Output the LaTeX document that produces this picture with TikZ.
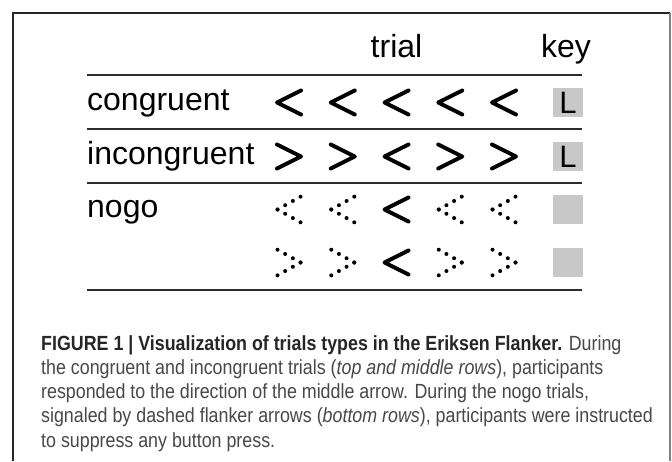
\documentclass[tikz,border=0pt]{standalone}
\usepackage{fontspec}
\setmainfont{Liberation Sans}
\newfontfamily\capfont[FakeStretch=0.87]{Liberation Sans}
\usepackage{xcolor}
\definecolor{keygray}{RGB}{200,200,200}
\definecolor{captext}{RGB}{72,72,72}
\definecolor{rulegray}{RGB}{45,45,45}
\tikzset{
  lab/.style={anchor=base west,inner sep=0pt,font=\fontsize{32}{36}\selectfont},
  head/.style={anchor=base,inner sep=0pt,font=\fontsize{32}{36}\selectfont},
  chev/.style={line width=4pt,line cap=round,line join=round},
  rulel/.style={rulegray,line width=1.8pt},
  keybox/.style={fill=keygray,minimum width=30pt,minimum height=29pt,inner sep=0pt,font=\fontsize{31}{34}\selectfont},
  capline/.style={anchor=base west,inner sep=0pt,font=\capfont\fontsize{20.5}{24}\selectfont,text=captext},
}
\newcommand{\lchev}[2]{\draw[chev] (#1+12,#2-12) -- (#1-12,#2) -- (#1+12,#2+12);}
\newcommand{\rchev}[2]{\draw[chev] (#1-12,#2-12) -- (#1+12,#2) -- (#1-12,#2+12);}
\newcommand{\ldotchev}[2]{\foreach \k in {0,1,2,3}{\fill (#1-11.5+7.667*\k,#2-4.27*\k) circle (2pt);
  \fill (#1-11.5+7.667*\k,#2+4.27*\k) circle (2pt);}}
\newcommand{\rdotchev}[2]{\foreach \k in {0,1,2,3}{\fill (#1+11.5-7.667*\k,#2-4.27*\k) circle (2pt);
  \fill (#1+11.5-7.667*\k,#2+4.27*\k) circle (2pt);}}
\begin{document}
\begin{tikzpicture}[x=1pt,y=-1pt]
\fill[white] (0,0) rectangle (672,461);
\useasboundingbox (0,0) rectangle (672,461);
% frame
\draw[black!85,line width=1.5pt] (13,461) -- (13,13) -- (670,13);
\draw[gray,line width=1.5pt] (670,13) -- (670,461);
% header and rules
\node[head] (trial) at (396.5,57) {trial};
\node[head] (key) at (566,57) {key};
\foreach \y in {75,129,183,290} \draw[rulel] (87,\y) -- (582,\y);
\node[lab] (cong) at (87,110.5) {congruent};
\node[lab] (incong) at (87,164.5) {incongruent};
\node[lab] (nogo) at (87,217.5) {nogo};
% arrows
\foreach \i in {0,...,4}{
  \pgfmathsetmacro{\cx}{289+53.75*\i}
  \lchev{\cx}{102.5}
  \ifnum\i=2 \lchev{\cx}{156.5} \lchev{\cx}{209.5} \lchev{\cx}{262.5}
  \else \rchev{\cx}{156.5} \ldotchev{\cx}{209.5} \rdotchev{\cx}{262.5} \fi
}
% keys
\node[keybox] (k1) at (568,102.5) {L};
\node[keybox] (k2) at (568,156.5) {L};
\node[keybox] (k3) at (568,209.5) {};
\node[keybox] (k4) at (568,262.5) {};
% caption
\node[capline] (c1) at (41,350) {{\bfseries\color{black!85}FIGURE 1 | Visualization of trials types in the Eriksen Flanker.} During};
\node[capline] (c2) at (41,374) {the congruent and incongruent trials (\textit{top and middle rows}), participants};
\node[capline] (c3) at (41,398) {responded to the direction of the middle arrow. During the nogo trials,};
\node[capline] (c4) at (41,422.5) {signaled by dashed flanker arrows (\textit{bottom rows}), participants were instructed};
\node[capline] (c5) at (41,447) {to suppress any button press.};
\end{tikzpicture}
\end{document}
